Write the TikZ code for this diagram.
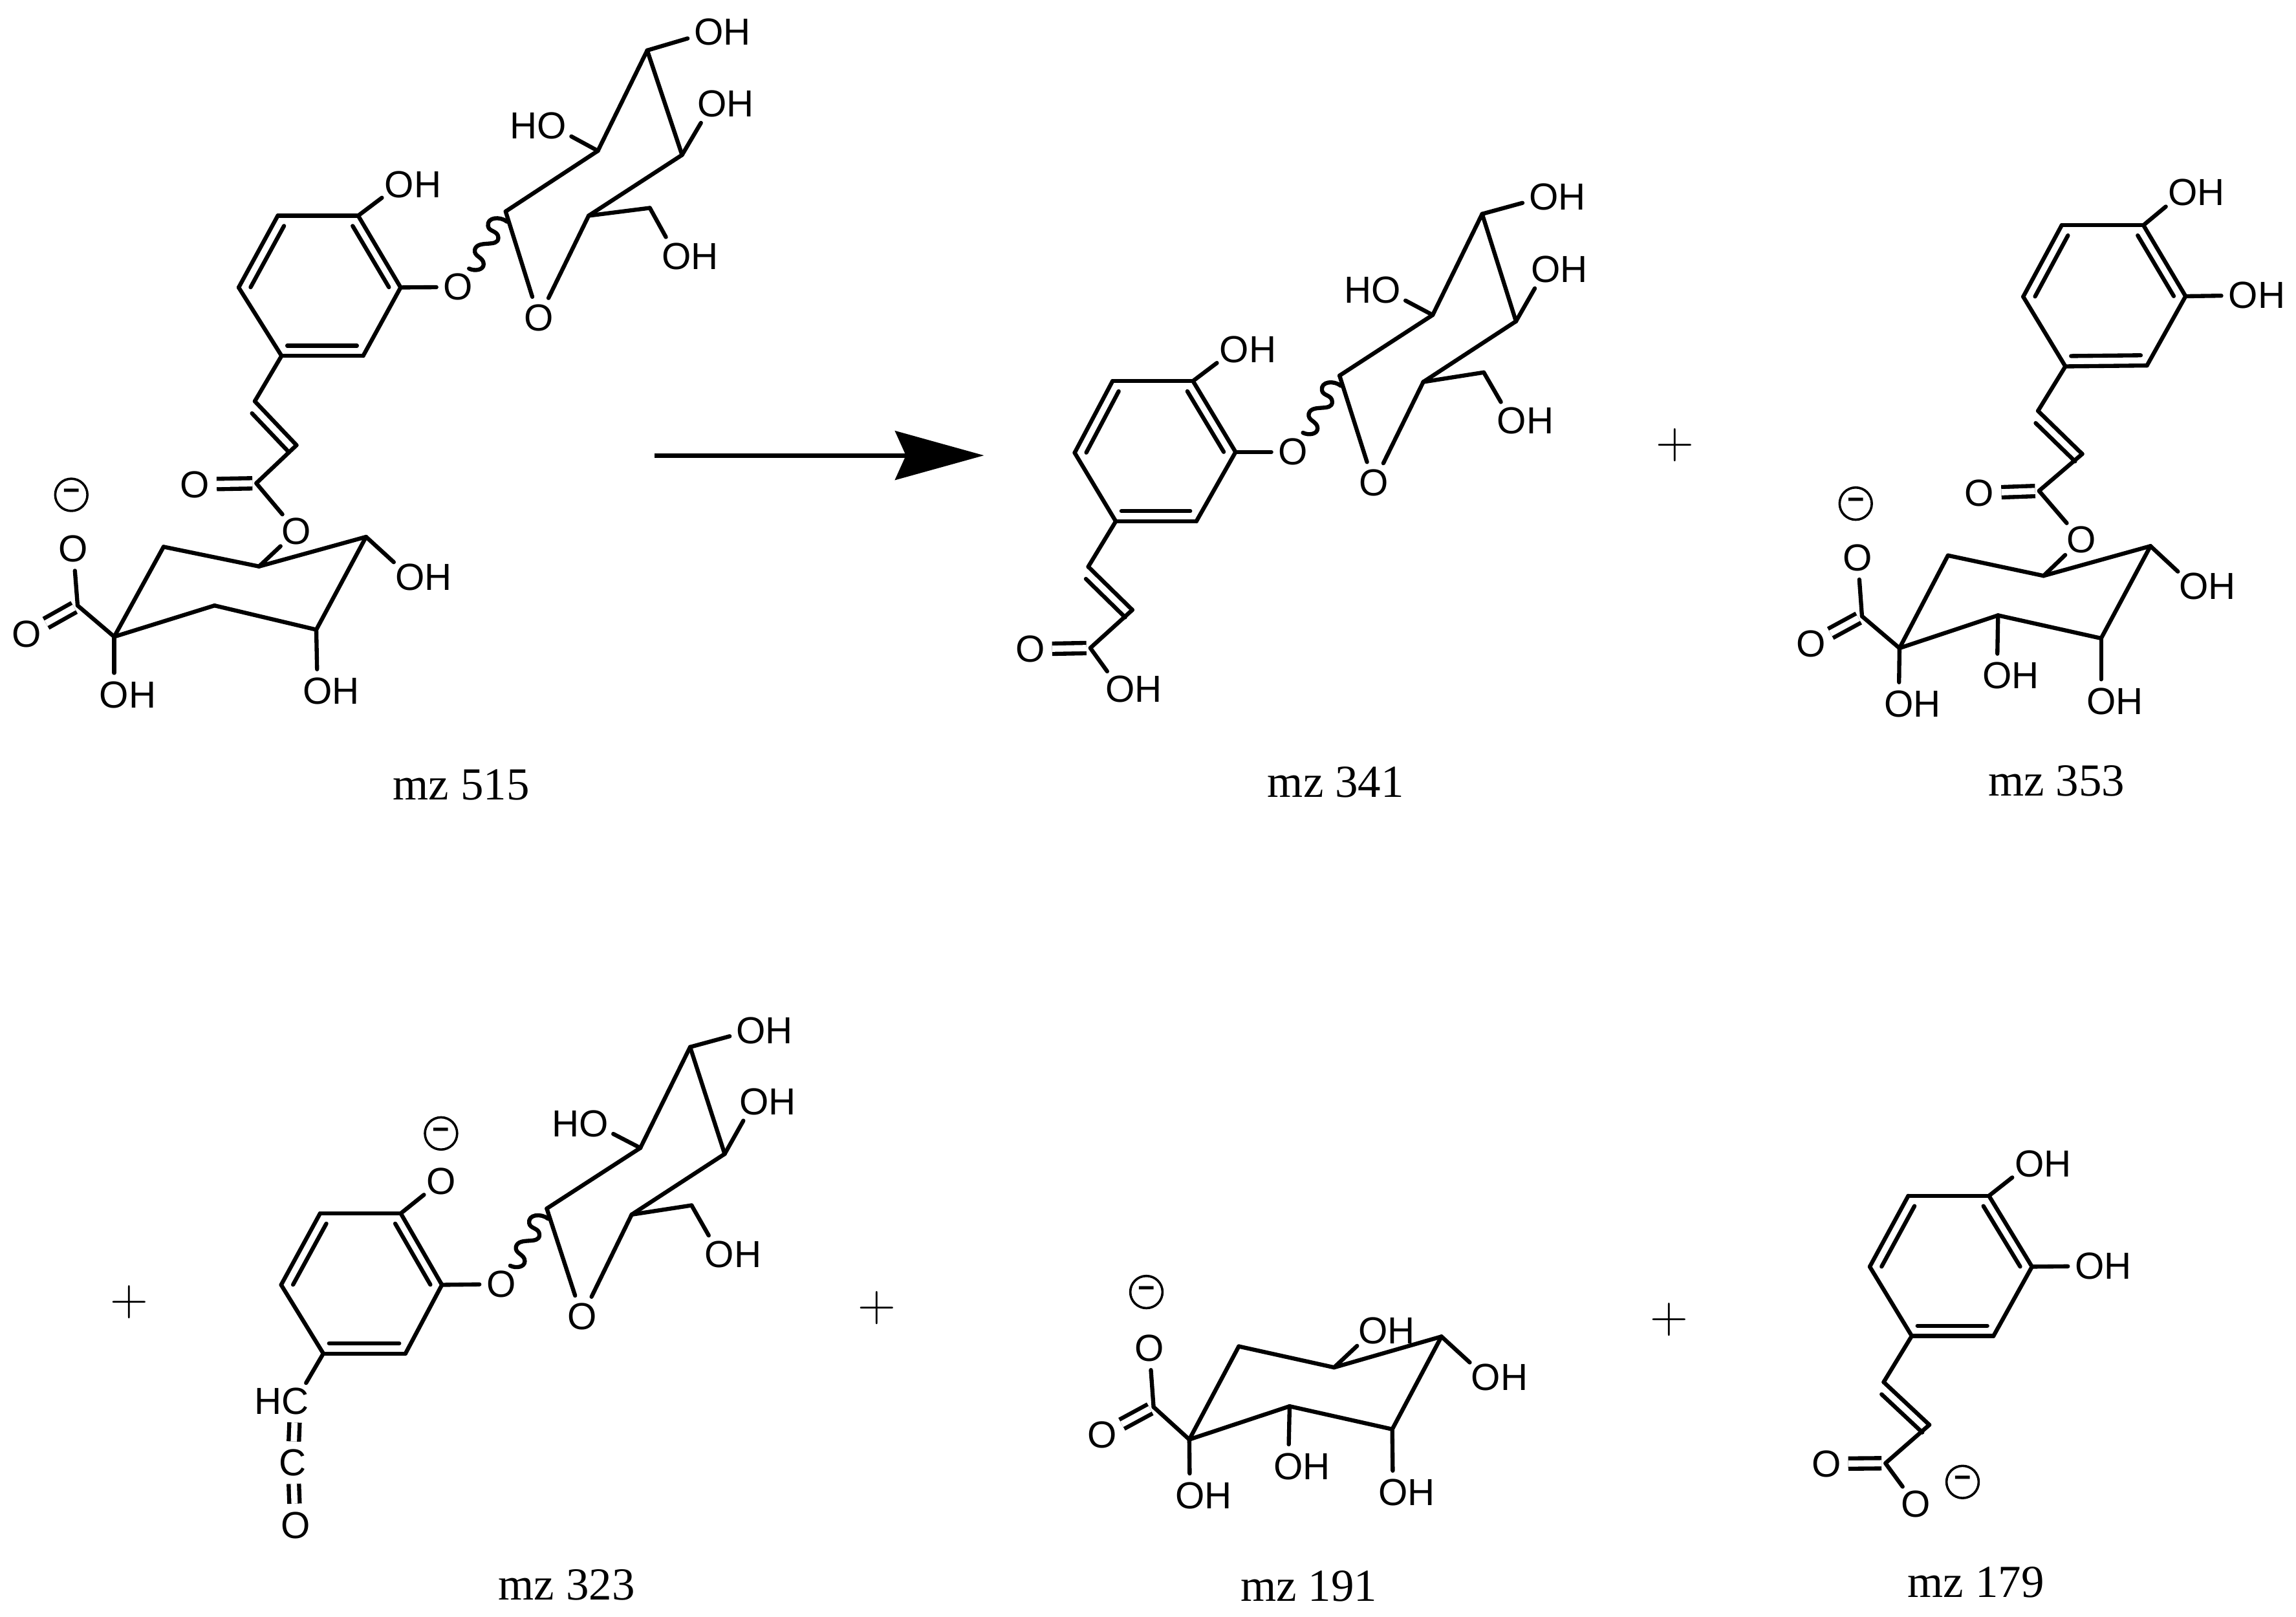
\documentclass[tikz,border=0pt]{standalone}
\usepackage{fontspec}
\usetikzlibrary{calc,arrows.meta}
\newfontfamily\atomfamily{Liberation Sans}
\newfontfamily\labelfamily{Liberation Serif}

\tikzset{every picture/.style={line width=2.1pt,line cap=round,line join=round}}
\tikzset{
  atom/.style={circle,inner sep=0.8pt,outer sep=0pt,font=\atomfamily\fontsize{19.3}{19.3}\selectfont},
  charge/.style={circle,draw,line width=1.2pt,inner sep=0pt,outer sep=0pt,minimum size=16.5pt,font=\atomfamily\bfseries\fontsize{15}{15}\selectfont},
  caption/.style={inner sep=0pt,font=\labelfamily\fontsize{23.5}{23.5}\selectfont},
  plus/.style={inner sep=0pt,font=\fontsize{27}{27}\selectfont},
  carbonyl/.style={double,double distance=3.2pt,line cap=butt},
  wavybond/.pic={\draw (1,7) .. controls (-4,3) and (-13,4) .. (-12,10) .. controls (-11.5,14) and (-5,13) .. (-5,18) .. controls (-5,25) and (-19,19) .. (-21,26) .. controls (-22,31) and (-15,31) .. (-15,36) .. controls (-15,40) and (-21,41) .. (-25,39);}
}

\newcommand{\OH}{O\rlap{H}}
\newcommand{\HO}{\llap{H}O}
% inner line is the bond pulled towards the middle of the ring
\newcommand{\ringdouble}[2]{\draw (#1) -- (#2); \draw ($(#1)!.146!(rc)$) -- ($(#2)!.146!(rc)$);}
% inner line lies on the left of the way from #1 to #2
\newcommand{\chaindouble}[2]{\draw (#1) -- (#2); \draw[shorten <=3.5pt] ($(#1)!5.3pt!90:(#2)$) -- ($(#2)!5.3pt!-90:(#1)$);}
\newcommand{\ringbonds}{%
  \coordinate (rc) at ($(r1)!.5!(r4)$);
  \ringdouble{r1}{r2} \ringdouble{r3}{r4} \ringdouble{r5}{r6}
  \foreach \a/\b in {r2/r3,r4/r5,r6/r1} \draw (\a) -- (\b);}
\newcommand{\sugarbonds}{%
  \foreach \a/\b in {s1/s2,s2/s3,s3/s4,s4/s5,s5/so,so/s1,s5/s6,s6/h4,s3/h1,s4/h2,s2/h3} \draw (\a) -- (\b);
  \pic [yscale=-1] at (s1) {wavybond};}
\newcommand{\chainbonds}{%
  \draw (r3) -- (v1); \chaindouble{v1}{v2}
  \draw (v2) -- (c1) -- (ox);
  \draw[carbonyl,shorten >=2pt] (oe) -- (c1);}
\newcommand{\quinicbonds}{%
  \foreach \a/\b in {q1/q2,q2/q3,q3/q4,q4/q5,q5/q6,q6/q1,q1/p1,p1/pa,q1/k1,q4/k4,q5/k5} \draw (\a) -- (\b);
  \draw[carbonyl,shorten >=2pt] (pb) -- (p1);}

\begin{document}
\begin{tikzpicture}[x=0.75pt,y=0.75pt,yscale=-1,xscale=1]
\useasboundingbox (0,0) rectangle (1568,1103.8);

%Molecule mz 515
\begin{scope}[name prefix=a-]
\coordinate (s1) at (345.3,144.4); \coordinate (s2) at (408.3,103); \coordinate (s3) at (442,34.4);
\coordinate (s4) at (465.8,105.8); \coordinate (s5) at (402,147.3); \coordinate (s6) at (443.8,142);
\node [atom] (so) at (368,217) {O};
\node [atom] (h1) at (484,22) {\OH};
\node [atom] (h2) at (486.3,71) {\OH};
\node [atom] (h3) at (377,86) {\HO};
\node [atom] (h4) at (462,175) {\OH};
\coordinate (r1) at (189.7,147.3); \coordinate (r2) at (163,196.3); \coordinate (r3) at (192.3,243);
\coordinate (r4) at (248,243); \coordinate (r5) at (273.6,196.3); \coordinate (r6) at (244.6,147.3);
\node [atom] (ot) at (272.8,126) {\OH};
\node [atom] (ol) at (313,196) {O};
\coordinate (v1) at (174,274); \coordinate (v2) at (202.5,304); \coordinate (c1) at (175,330);
\node [atom] (oe) at (133,330.8) {O};
\node [atom] (ox) at (202.5,362.7) {O};
\coordinate (q1) at (78,434.8); \coordinate (q2) at (111.7,373.4); \coordinate (q3) at (176.9,386.8);
\coordinate (q4) at (250,366.6); \coordinate (q5) at (216,430); \coordinate (q6) at (146.5,413.5);
\coordinate (p1) at (53,413.5);
\node [atom] (pa) at (50,374.8) {O};
\node [atom] (pb) at (18.3,433) {O};
\node [charge] (z) at (48.7,337.9) {−};
\node [atom] (k1) at (78,474.5) {\OH};
\node [atom] (k4) at (280,394) {\OH};
\node [atom] (k5) at (216.8,472) {\OH};
\sugarbonds \ringbonds \chainbonds \quinicbonds
\draw (r6) -- (ot); \draw (r5) -- (ol); \draw (q3) -- (ox);
\node [caption] (m) at (315,536) {mz 515};
\end{scope}

%Reaction arrow
\coordinate (arrowstart) at (447,311);
\coordinate (arrowend) at (672,311);
\draw [-{Stealth[length=45.5pt,width=25pt,inset=5.5pt]},line width=2.4pt,line cap=butt] (arrowstart) -- (arrowend);

%Molecule mz 341
\begin{scope}[name prefix=b-]
\coordinate (s1) at (914.8,256.5); \coordinate (s2) at (978.4,215.1); \coordinate (s3) at (1012.2,146.1);
\coordinate (s4) at (1035.3,219.4); \coordinate (s5) at (972,260.8); \coordinate (s6) at (1013.3,254.3);
\node [atom] (so) at (938.1,329.8) {O};
\node [atom] (h1) at (1054.2,134.6) {\OH};
\node [atom] (h2) at (1055.6,183.9) {\OH};
\node [atom] (h3) at (946.6,198.2) {\HO};
\node [atom] (h4) at (1032.5,287.5) {\OH};
\coordinate (r1) at (759.8,260.2); \coordinate (r2) at (733.9,309.2); \coordinate (r3) at (762,356);
\coordinate (r4) at (817,356); \coordinate (r5) at (843.8,308.7); \coordinate (r6) at (814.7,260.2);
\node [atom] (ot) at (843,238.8) {\OH};
\node [atom] (ol) at (883.2,308.7) {O};
\coordinate (v1) at (743.2,387); \coordinate (v2) at (773.3,416.5); \coordinate (c1) at (744.6,442.5);
\node [atom] (oe) at (703.5,443.3) {O};
\node [atom] (ox) at (764.9,470.6) {\OH};
\sugarbonds \ringbonds \chainbonds
\draw (r6) -- (ot); \draw (r5) -- (ol);
\node [caption] (m) at (912.2,534) {mz 341};
\end{scope}

\node [plus] (plusa) at (1144,304) {+};

%Molecule mz 353
\begin{scope}[name prefix=c-]
\coordinate (r1) at (1408,153.8); \coordinate (r2) at (1381.7,202.6); \coordinate (r3) at (1410.5,250.2);
\coordinate (r4) at (1466.2,249.6); \coordinate (r5) at (1492.6,202.3); \coordinate (r6) at (1463.8,153.8);
\node [atom] (ot) at (1490.6,131.5) {\OH};
\node [atom] (ol) at (1532,201.7) {\OH};
\coordinate (v1) at (1391.8,280.6); \coordinate (v2) at (1422,310); \coordinate (c1) at (1392.5,335.2);
\node [atom] (oe) at (1351.8,336.7) {O};
\node [atom] (ox) at (1421.2,368.6) {O};
\coordinate (q1) at (1297.2,442.6); \coordinate (q2) at (1330.3,379.3); \coordinate (q3) at (1395.6,393.2);
\coordinate (q4) at (1468.6,372.9); \coordinate (q5) at (1434.9,435.9); \coordinate (q6) at (1364.5,420.2);
\coordinate (p1) at (1271.6,420.8);
\node [atom] (pa) at (1268.7,380.8) {O};
\node [atom] (pb) at (1236.9,439.7) {O};
\node [charge] (z) at (1267.3,343.9) {−};
\node [atom] (k1) at (1296.7,480.9) {\OH};
\node [atom] (k4) at (1498.3,400.5) {\OH};
\node [atom] (k5) at (1434.9,478.9) {\OH};
\node [atom] (k6) at (1363.8,461.4) {\OH};
\ringbonds \chainbonds \quinicbonds
\draw (r6) -- (ot); \draw (r5) -- (ol); \draw (q3) -- (ox); \draw (q6) -- (k6);
\node [caption] (m) at (1404.5,533.1) {mz 353};
\end{scope}

\node [plus] (plusb) at (88.3,889) {+};

%Molecule mz 323
\begin{scope}[name prefix=d-]
\coordinate (s1) at (373.4,825.3); \coordinate (s2) at (437.3,783.9); \coordinate (s3) at (471.3,715);
\coordinate (s4) at (494.9,788); \coordinate (s5) at (431.4,829.4); \coordinate (s6) at (472.3,823.1);
\node [atom] (so) at (397.4,899) {O};
\node [atom] (h1) at (512.8,703.7) {\OH};
\node [atom] (h2) at (515,752.2) {\OH};
\node [atom] (h3) at (405.5,767.4) {\HO};
\node [atom] (h4) at (491.4,856.7) {\OH};
\coordinate (r1) at (218.6,828.6); \coordinate (r2) at (192,877.4); \coordinate (r3) at (220.8,924.3);
\coordinate (r4) at (276.9,924.3); \coordinate (r5) at (301.8,877.4); \coordinate (r6) at (273.7,828.6);
\node [atom] (ot) at (301.2,806.5) {O};
\node [charge] (z) at (301.2,774) {−};
\node [atom] (ol) at (342.4,876.9) {O};
\node [atom] (v1) at (201.7,956.9) {\llap{H}C};
\node [atom] (v2) at (200.1,998.8) {C};
\node [atom] (oe) at (201.7,1041.8) {O};
\sugarbonds \ringbonds
\draw (r6) -- (ot); \draw (r5) -- (ol); \draw (r3) -- (v1);
\draw [carbonyl] (v1) -- (v2); \draw [carbonyl] (v2) -- (oe);
\node [caption] (m) at (387,1082.4) {mz 323};
\end{scope}

\node [plus] (plusc) at (599,893) {+};

%Molecule mz 191
\begin{scope}[name prefix=e-]
\coordinate (q1) at (812.2,983); \coordinate (q2) at (846,919.4); \coordinate (q3) at (911.1,933.8);
\coordinate (q4) at (984.4,912.7); \coordinate (q5) at (950.8,976); \coordinate (q6) at (880.7,960.3);
\coordinate (p1) at (787.8,960.8);
\node [atom] (pa) at (784.9,920.6) {O};
\node [atom] (pb) at (752.9,979.7) {O};
\node [charge] (z) at (782.9,882.3) {−};
\node [atom] (k1) at (812.6,1021.2) {\OH};
\node [atom] (k3) at (937.7,908.8) {\OH};
\node [atom] (k4) at (1014.8,940.5) {\OH};
\node [atom] (k5) at (951.3,1019.3) {\OH};
\node [atom] (k6) at (879.8,1001.3) {\OH};
\quinicbonds
\draw (q3) -- (k3); \draw (q6) -- (k6);
\node [caption] (m) at (893.8,1083) {mz 191};
\end{scope}

\node [plus] (plusd) at (1140,901) {+};

%Molecule mz 179
\begin{scope}[name prefix=f-]
\coordinate (r1) at (1303.2,816.6); \coordinate (r2) at (1276.9,865); \coordinate (r3) at (1305.6,912.3);
\coordinate (r4) at (1361.4,912.3); \coordinate (r5) at (1387.7,865); \coordinate (r6) at (1358.3,816.6);
\node [atom] (ot) at (1386,794.8) {\OH};
\node [atom] (ol) at (1427.2,864.6) {\OH};
\coordinate (v1) at (1286.4,943.8); \coordinate (v2) at (1317.6,973); \coordinate (c1) at (1287.6,999.2);
\node [atom] (oe) at (1247.2,999.6) {O};
\node [atom] (ox) at (1308.2,1027.3) {O};
\node [charge] (z) at (1340.3,1012) {−};
\ringbonds \chainbonds
\draw (r6) -- (ot); \draw (r5) -- (ol);
\node [caption] (m) at (1349.4,1080.7) {mz 179};
\end{scope}

\end{tikzpicture}
\end{document}
